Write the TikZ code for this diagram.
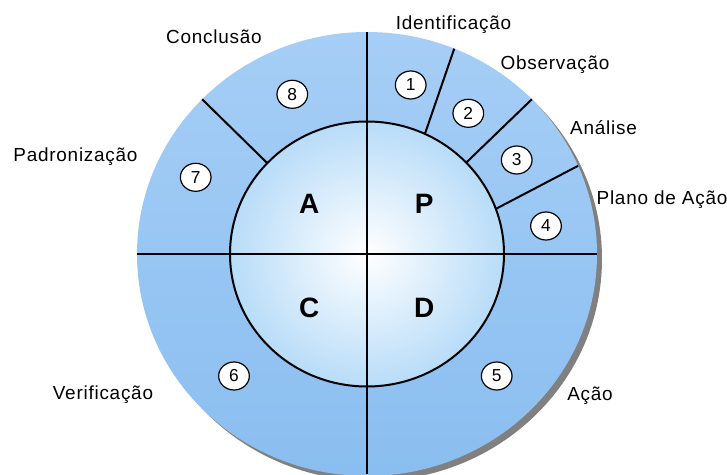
\documentclass[tikz,border=0pt]{standalone}
\usepackage{fontspec}
\setmainfont{Liberation Sans}
\newfontfamily\stagefont{Liberation Sans}[LetterSpace=4]
\usepackage{tikz}
\usetikzlibrary{shapes.geometric}
\usepackage{xcolor}
\definecolor{RingTop}  {RGB}{166,206,246}
\definecolor{RingBot}  {RGB}{138,190,240}
\definecolor{CoreEdge} {RGB}{184,220,248}
\definecolor{ShadowG}  {RGB}{128,128,128}

\begin{document}
\begin{tikzpicture}[x=0.75pt,y=0.75pt,
    divider/.style={line width=1.5pt,black},
    numball/.style={ellipse,draw=black,line width=0.9pt,fill=white,
      inner sep=0pt,minimum width=23pt,minimum height=21pt,
      font=\fontsize{13}{13}\selectfont},
    quad/.style={font=\fontsize{21}{21}\selectfont\bfseries},
    stage/.style={anchor=base,font=\fontsize{14.2}{16}\stagefont}]
  \useasboundingbox (-367,-220) rectangle (360,254);
  % ring, shadow and core
  \fill[ShadowG] (5,-5) ellipse [x radius=230, y radius=222];
  \shade[top color=RingTop,bottom color=RingBot]
    (0,0) ellipse [x radius=230, y radius=222];
  \shade[inner color=white,outer color=CoreEdge]
    (0,0) ellipse [x radius=137, y radius=132.5];
  % dividers
  \draw[divider] (0,-220) -- (0,222);
  \draw[divider] (-230,0) -- (230,0);
  \draw[divider] (0,0) ellipse [x radius=137, y radius=132.5];
  \foreach \a/\b in {65/67.7,43.6/44.2,19.9/23.4,136.7/135.8}{
    \draw[divider] (\a:137 and 132.5) -- (\b:230 and 222);}
  % quadrants
  \foreach \l/\x/\y in {A/-57.7/50,P/57.3/50,C/-57.7/-54.3,D/57.3/-54.3}{
    \node[quad] (q\l) at (\x,\y) {\l};}
  % steps
  \foreach \n/\x/\y in {1/43.7/169,2/101.3/140.7,3/149.7/94,4/179/28,
                        5/129.7/-122,6/-133/-122,7/-171.3/76.7,8/-74.7/159.7}{
    \node[numball] (n\n) at (\x,\y) {\n};}
  \node[stage] (sIdent) at (86.5,224)   {Identificação};
  \node[stage] (sObs)   at (188,184.5)  {Observação};
  \node[stage] (sAnal)  at (236.5,119)  {Análise};
  \node[stage] (sPlano) at (295,49)     {Plano de Ação};
  \node[stage] (sAcao)  at (223,-146)   {Ação};
  \node[stage] (sVerif) at (-264,-145)  {Verificação};
  \node[stage] (sPadr)  at (-291.5,92)  {Padronização};
  \node[stage] (sConcl) at (-153,210)   {Conclusão};
\end{tikzpicture}
\end{document}
